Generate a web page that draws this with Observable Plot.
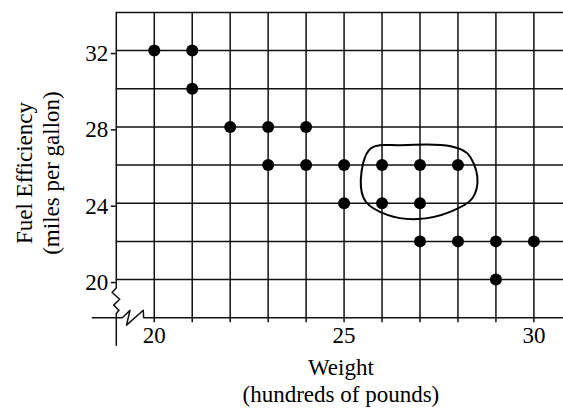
<!DOCTYPE html>
<html>
<head>
<meta charset="utf-8">
<script src="https://cdn.jsdelivr.net/npm/d3@7"></script>
<script src="https://cdn.jsdelivr.net/npm/@observablehq/plot@0.6"></script>
<style>
  html, body { margin: 0; padding: 0; background: #fff; }
  #chart svg { display: block; }
</style>
</head>
<body>
<div id="chart"></div>
<script>
// Data points: weight (hundreds of pounds) and fuel efficiency (mpg)
const weights = [20, 21, 21, 22, 23, 24, 23, 24, 25, 26, 27, 28, 25, 26, 27, 27, 28, 29, 30, 29];
const mpg     = [32, 32, 30, 28, 28, 28, 26, 26, 26, 26, 26, 26, 24, 24, 24, 22, 22, 22, 22, 20];

// Grid and tick values
const xGrid = [20, 21, 22, 23, 24, 25, 26, 27, 28, 29, 30];
const xLabels = [20, 25, 30];
const yGrid = [20, 22, 24, 26, 28, 30, 32, 34];
const yLabels = [20, 24, 28, 32];

// Titles
const xTitle = "Weight\n(hundreds of pounds)";
const yTitle = "Fuel Efficiency\n(miles per gallon)";

// Hand-drawn loop around the cluster (data units)
const loopW = [25.44, 25.70, 26.49, 27.81, 28.25, 28.51, 28.38, 27.81, 26.93, 26.14, 25.57];
const loopM = [25.22, 26.87, 27.04, 26.99, 26.61, 25.39, 24.26, 23.56, 23.17, 23.39, 24.09];

// Axis lines with break marks (data units)
const yAxisW = [19, 19, 18.89, 19.09, 18.93, 19.07, 19, 19];
const yAxisM = [34, 19.57, 19.32, 18.97, 18.66, 18.39, 18.22, 16.56];
const xAxisW = [18.37, 19.16, 19.36, 19.27, 19.71, 19.72, 30.78];
const xAxisM = [18, 18, 18.39, 17.61, 18.39, 18, 18];

const points = weights.map((w, i) => ({w, m: mpg[i]}));
const loop = loopW.map((w, i) => ({w, m: loopM[i]}));
const yAxisPath = yAxisW.map((w, i) => ({w, m: yAxisM[i]}));
const xAxisPath = xAxisW.map((w, i) => ({w, m: xAxisM[i]}));

const lineColor = "#111";
const lineWidth = 1.5;

const chart = Plot.plot({
  width: 563,
  height: 411,
  marginLeft: 115.8,
  marginRight: 0,
  marginTop: 11.9,
  marginBottom: 93.8,
  style: {fontFamily: "'Liberation Serif', 'Times New Roman', serif", fontSize: "23px", color: "#000", background: "#fff"},
  x: {domain: [19, 30.78]},
  y: {domain: [18, 34]},
  marks: [
    Plot.ruleY(yGrid, {stroke: lineColor, strokeWidth: lineWidth}),
    Plot.ruleX(xGrid, {stroke: lineColor, strokeWidth: lineWidth}),
    Plot.line(yAxisPath, {x: "w", y: "m", stroke: lineColor, strokeWidth: lineWidth, curve: "linear"}),
    Plot.line(xAxisPath, {x: "w", y: "m", stroke: lineColor, strokeWidth: lineWidth, curve: "linear"}),
    Plot.axisX(xGrid, {
      tickSize: 5, tickPadding: 4, stroke: lineColor, strokeWidth: lineWidth,
      tickFormat: d => xLabels.includes(d) ? String(d) : "", label: null, fontSize: 23
    }),
    Plot.axisY(yLabels, {
      tickSize: 5, tickPadding: 3, stroke: lineColor, strokeWidth: lineWidth,
      tickFormat: d => String(d), label: null, fontSize: 23, dy: 3
    }),
    Plot.line(loop, {x: "w", y: "m", stroke: "#000", strokeWidth: 2, curve: "catmull-rom-closed"}),
    Plot.dot(points, {x: "w", y: "m", r: 6, fill: "#000", stroke: "none"}),
    Plot.text([xTitle], {frameAnchor: "bottom", textAnchor: "middle", lineAnchor: "top", lineHeight: 1.15, dy: 39, dx: 1, fontSize: 23}),
    Plot.text([yTitle], {frameAnchor: "left", rotate: -90, textAnchor: "middle", lineAnchor: "middle", lineHeight: 1.2, dx: -79.5, dy: 8, fontSize: 23})
  ]
});
document.getElementById("chart").appendChild(chart);
</script>
</body>
</html>
